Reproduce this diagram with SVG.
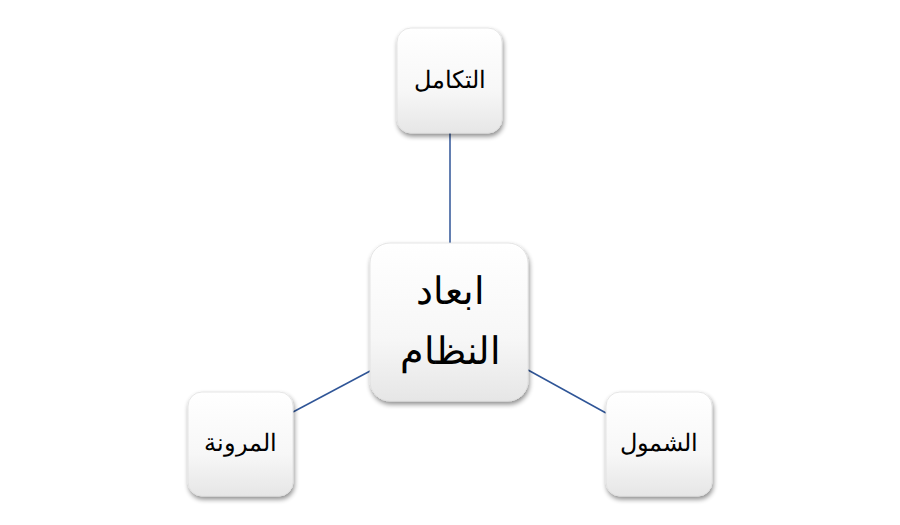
<svg xmlns="http://www.w3.org/2000/svg" width="900" height="525" viewBox="0 0 900 525">
<defs>
<linearGradient id="g" x1="0" y1="0" x2="0" y2="1">
<stop offset="0" stop-color="#ffffff"/><stop offset="0.6" stop-color="#f7f7f7"/><stop offset="1" stop-color="#e6e6e6"/>
</linearGradient>
<filter id="sh" x="-20%" y="-20%" width="150%" height="150%">
<feGaussianBlur in="SourceAlpha" stdDeviation="2.5"/><feOffset dx="1" dy="3"/>
<feComponentTransfer><feFuncA type="linear" slope="0.45"/></feComponentTransfer>
<feMerge><feMergeNode/><feMergeNode in="SourceGraphic"/></feMerge>
</filter>
<style>
.box{fill:url(#g);stroke:#e0e0e0;stroke-width:0.8;filter:url(#sh)}
.t{font-family:"Liberation Sans","Noto Sans",sans-serif;fill:#000;text-anchor:middle}
.c{stroke:#2F5597;stroke-width:1.5;fill:none}
</style>
</defs>
<rect width="900" height="525" fill="#fff"/>
<g id="connectors">
<line class="c" x1="450" y1="133" x2="450" y2="243"/>
<line class="c" x1="293" y1="412" x2="372" y2="370"/>
<line class="c" x1="528" y1="370" x2="606" y2="413"/>
</g>
<g id="top"><rect class="box" x="397" y="28" width="105" height="105" rx="14"/><text class="t" x="450" y="88" font-size="24">التكامل</text></g>
<g id="center"><rect class="box" x="370" y="243" width="158" height="158" rx="20"/><text class="t" x="450" y="304" font-size="38">ابعاد</text><text class="t" x="450" y="364" font-size="38">النظام</text></g>
<g id="left"><rect class="box" x="188" y="392" width="105" height="104" rx="14"/><text class="t" x="240" y="451" font-size="24">المرونة</text></g>
<g id="right"><rect class="box" x="606" y="392" width="106" height="104" rx="14"/><text class="t" x="659" y="451" font-size="24">الشمول</text></g>
</svg>
